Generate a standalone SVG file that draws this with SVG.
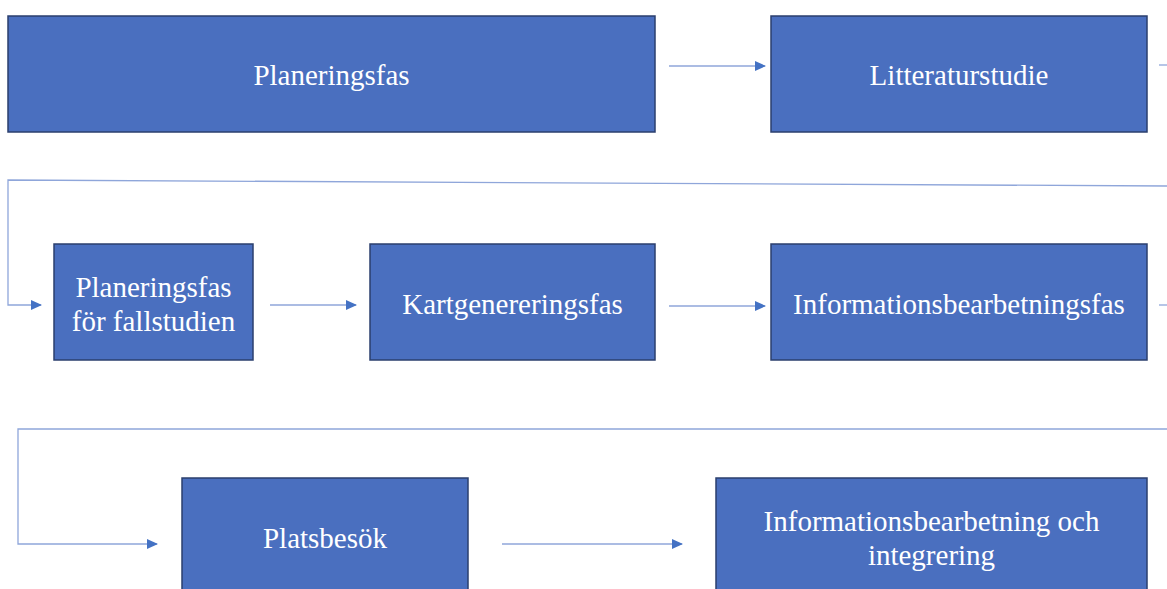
<svg xmlns="http://www.w3.org/2000/svg" width="1167" height="589" viewBox="0 0 1167 589">
<style>
.box{fill:#4A6FBF;stroke:#2B3F6E;stroke-width:1.5}
.t{font-family:"Liberation Serif","Times New Roman",serif;font-size:29px;fill:#fff;text-anchor:middle}
.c{fill:none;stroke:#8FA6DA;stroke-width:1.3}
</style>
<defs>
<marker id="ah" markerWidth="11" markerHeight="10" refX="10" refY="5" orient="auto" markerUnits="userSpaceOnUse">
<path d="M0,0 L11,5 L0,10 Z" fill="#4472C4"/>
</marker>
</defs>
<rect width="1167" height="589" fill="#fff"/>
<g id="connectors">
<path class="c" d="M669,66 H765" marker-end="url(#ah)"/>
<path class="c" d="M1159,65 H1167"/>
<path class="c" d="M1167,186 L8,180 V305 H41" marker-end="url(#ah)"/>
<path class="c" d="M270,305 H356" marker-end="url(#ah)"/>
<path class="c" d="M669,306 H765" marker-end="url(#ah)"/>
<path class="c" d="M1159,305 H1167"/>
<path class="c" d="M1167,429 H18 V544 H157" marker-end="url(#ah)"/>
<path class="c" d="M502,544 H682" marker-end="url(#ah)"/>
</g>
<g id="n1"><rect class="box" x="8" y="16" width="647" height="116"/><text class="t" x="331.5" y="85">Planeringsfas</text></g>
<g id="n2"><rect class="box" x="771" y="16" width="376" height="116"/><text class="t" x="959" y="85">Litteraturstudie</text></g>
<g id="n3"><rect class="box" x="54" y="244" width="199" height="116"/><text class="t" x="153.5" y="297">Planeringsfas</text><text class="t" x="153.5" y="331">för fallstudien</text></g>
<g id="n4"><rect class="box" x="370" y="244" width="285" height="116"/><text class="t" x="512.5" y="314">Kartgenereringsfas</text></g>
<g id="n5"><rect class="box" x="771" y="244" width="376" height="116"/><text class="t" x="959" y="314">Informationsbearbetningsfas</text></g>
<g id="n6"><rect class="box" x="182" y="478" width="286" height="120"/><text class="t" x="325" y="548">Platsbesök</text></g>
<g id="n7"><rect class="box" x="716" y="478" width="431" height="120"/><text class="t" x="931.5" y="531">Informationsbearbetning och</text><text class="t" x="931.5" y="565">integrering</text></g>
</svg>
